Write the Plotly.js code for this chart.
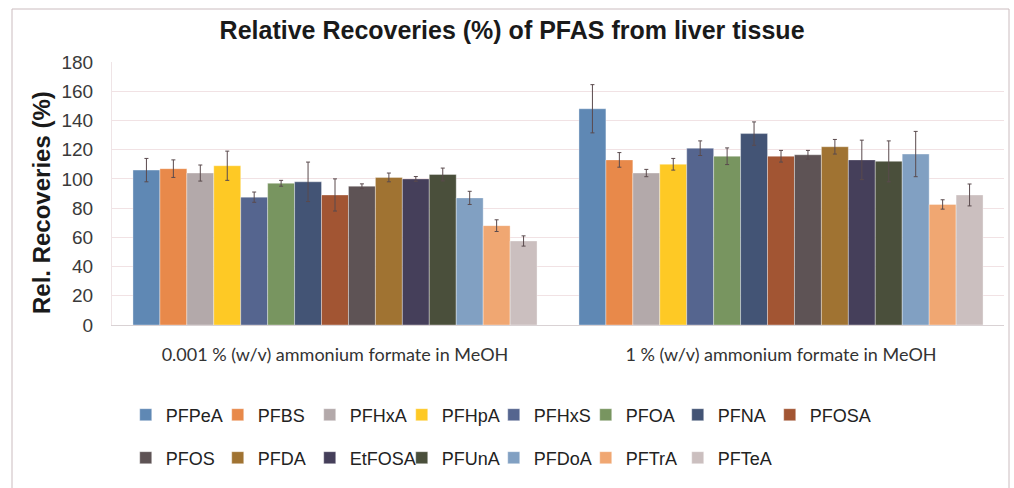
<!DOCTYPE html>
<html>
<head>
<meta charset="utf-8">
<script src="https://cdn.plot.ly/plotly-3.0.1.min.js"></script>
<style>
  html, body { margin: 0; padding: 0; background: #ffffff; }
  #chart { width: 1014px; height: 488px; }
</style>
</head>
<body>
<div id="chart"></div>
<script>
// ---- data ----
const categories = [
  "0.001 % (w/v) ammonium formate in MeOH",
  "1 % (w/v) ammonium formate in MeOH"
];
const compounds = ["PFPeA", "PFBS", "PFHxA", "PFHpA", "PFHxS", "PFOA", "PFNA", "PFOSA",
                   "PFOS", "PFDA", "EtFOSA", "PFUnA", "PFDoA", "PFTrA", "PFTeA"];
const recoveryLow  = [106, 107, 104, 109, 87.5, 97, 98, 89, 95, 101, 100, 103, 87, 68, 57.5];
const errorLow     = [8, 6, 5.5, 10, 3.5, 2, 13.5, 11, 1.6, 3, 1.6, 4.4, 4.5, 4, 3.5];
const recoveryHigh = [148, 113, 104, 110, 121, 115.5, 131, 115.5, 116.5, 122, 113, 112, 117, 82.5, 89];
const errorHigh    = [16.5, 5, 2.5, 4, 5, 5.7, 8, 4, 3, 5, 13.5, 14, 15.5, 3.2, 7.5];
const yTicks = [0, 20, 40, 60, 80, 100, 120, 140, 160, 180];
const yTitle = "Rel. Recoveries (%)";

// ---- styles ----
const colors = ["#5f88b4", "#e8894a", "#b3a9aa", "#fec925", "#55658f", "#789560", "#435475", "#a25533",
                "#5e5355", "#a07332", "#453f5a", "#4a4f3b", "#81a0c2", "#f0a772", "#cbbfbf"];

const traces = compounds.map((name, i) => ({
  type: "bar",
  name: name,
  x: categories,
  y: [recoveryLow[i], recoveryHigh[i]],
  error_y: {
    type: "data",
    array: [errorLow[i], errorHigh[i]],
    visible: true,
    color: "#5a4a4d",
    thickness: 1,
    width: 2
  },
  marker: { color: colors[i], line: { color: "rgba(255,255,255,0.35)", width: 1 } },
  legend: i < 8 ? "legend" : "legend2",
  hoverinfo: "name+y"
}));

// empty spacer entries so the last legend label in each row is not clipped
["legend", "legend2"].forEach(lg => traces.push({
  type: "scatter", mode: "markers", x: [null], y: [null],
  name: " ", legend: lg, hoverinfo: "skip",
  marker: { color: "rgba(0,0,0,0)", size: 1 }
}));

const legendCommon = {
  orientation: "h",
  xref: "container", yref: "container",
  xanchor: "left", yanchor: "middle",
  x: 0.124,
  entrywidthmode: "pixels",
  entrywidth: 47,
  font: { family: "Liberation Sans, Arial, sans-serif", size: 18, color: "#222222" },
  bgcolor: "rgba(0,0,0,0)",
  borderwidth: 0,
  traceorder: "normal"
};

const layout = {
  width: 1014,
  height: 488,
  margin: { l: 112, r: 10, t: 62, b: 163 },
  paper_bgcolor: "#ffffff",
  plot_bgcolor: "#ffffff",
  barmode: "group",
  bargap: 0.094,
  bargroupgap: 0,
  title: {
    text: "<b>Relative Recoveries (%) of PFAS from liver tissue</b>",
    font: { family: "Liberation Sans, Arial, sans-serif", size: 25, color: "#1a1a1a" },
    xref: "container", yref: "container",
    x: 0.505, xanchor: "center",
    y: 1 - 30 / 488, yanchor: "middle"
  },
  xaxis: {
    type: "category",
    showgrid: false,
    showline: true,
    linecolor: "#d9d2d4",
    linewidth: 1,
    ticks: "",
    ticklabelstandoff: 13,
    tickfont: { family: "Lato, Open Sans, sans-serif", size: 18, color: "#333333" },
    fixedrange: true
  },
  yaxis: {
    range: [0, 180],
    tickvals: yTicks,
    ticktext: yTicks.map(String),
    showgrid: true,
    gridcolor: "#f1e2e4",
    gridwidth: 1,
    zeroline: false,
    showline: true,
    linecolor: "#efe4e6",
    ticks: "",
    ticklabelstandoff: 14,
    tickfont: { family: "Liberation Sans, Arial, sans-serif", size: 19, color: "#3a3a3a" },
    automargin: false,
    fixedrange: true
  },
  annotations: [{
    text: "<b>" + yTitle + "</b>",
    textangle: -90,
    xref: "paper", yref: "paper",
    x: (41 - 112) / 892, y: (325 - 203) / 263,
    xanchor: "center", yanchor: "middle",
    showarrow: false,
    font: { family: "Liberation Sans, Arial, sans-serif", size: 24, color: "#1a1a1a" }
  }],
  legend: Object.assign({}, legendCommon, { y: 1 - 415 / 488 }),
  legend2: Object.assign({}, legendCommon, { y: 1 - 458 / 488 }),
  shapes: [{
    type: "rect",
    xref: "paper", yref: "paper",
    x0: (12 - 112) / 892, x1: (1009 - 112) / 892,
    y0: (325 - 495) / 263, y1: (325 - 9) / 263,
    line: { color: "#cbbcbf", width: 1 },
    fillcolor: "rgba(0,0,0,0)",
    layer: "below"
  }],
  showlegend: true
};

Plotly.newPlot("chart", traces, layout, { displayModeBar: false, staticPlot: true });
</script>
</body>
</html>
